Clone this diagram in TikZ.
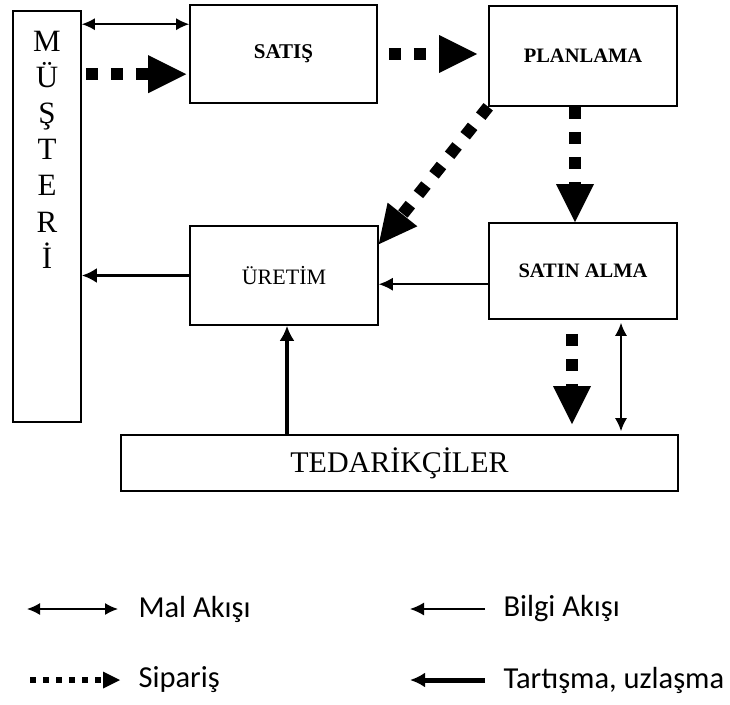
\documentclass[tikz,border=0pt]{standalone}
\usepackage{fontspec}
\setmainfont{Liberation Serif}
\newfontfamily\aciklama{Carlito}
\usetikzlibrary{arrows.meta}
\tikzset{
  kutu/.style={draw, line width=1.6pt, inner sep=0pt},
  harf/.style={anchor=base, font=\fontsize{31}{33}\selectfont},
  mal/.style={line width=1.5pt, {Latex[length=13pt,width=12pt]}-{Latex[length=13pt,width=12pt]}},
  bilgi/.style={line width=1.5pt, -{Latex[length=14pt,width=13pt]}},
  tartisma/.style={line width=3.5pt, -{Latex[length=15pt,width=15pt]}},
  siparis/.style={line width=12pt, dash pattern=on 12pt off 13pt, -{Triangle[length=38pt,width=38pt,line width=0pt]}},
  kucuksiparis/.style={line width=6pt, dash pattern=on 6pt off 7pt, -{Triangle[length=17pt,width=17pt,line width=0pt]}},
  yazi/.style={anchor=west, font=\aciklama\fontsize{30.5}{34}\selectfont}
}
\begin{document}
\begin{tikzpicture}[x=1pt, y=-1pt]
\useasboundingbox (0,0) rectangle (730,704);
\node[kutu, minimum width=68pt, minimum height=411pt] (musteri) at (47,216.5){};
\foreach \h [count=\i] in {M,Ü,Ş,T,E,R,İ}
  \node[harf] (harf\i) at (47,14.8+36.2*\i){\h};
\node[kutu, minimum width=187pt, minimum height=98pt, font=\bfseries\fontsize{21}{24}\selectfont] (satis) at (283.5,54){SATIŞ};
\node[kutu, minimum width=188pt, minimum height=100pt, font=\bfseries\fontsize{20.5}{24}\selectfont] (planlama) at (583,56){PLANLAMA};
\node[kutu, minimum width=188pt, minimum height=99pt, font=\fontsize{22}{24}\selectfont] (uretim) at (284,275.5){ÜRETİM};
\node[kutu, minimum width=188pt, minimum height=96pt, font=\bfseries\fontsize{20.5}{24}\selectfont] (satinalma) at (583,271){SATIN ALMA};
\node[kutu, minimum width=557pt, minimum height=56pt, font=\fontsize{30}{34}\selectfont] (tedarikci) at (399.5,463){TEDARİKÇİLER};
\coordinate (malust) at ([yshift=-20pt]satis.north west);
\coordinate (sipust) at ([yshift=-70pt]satis.north west);
\coordinate (bilgiuc) at ([yshift=-62pt]satinalma.north west);
\coordinate (tartalt) at ([xshift=3pt]uretim.south);
\coordinate (sipalt) at ([xshift=-11pt]satinalma.south);
\coordinate (malalt) at ([xshift=38pt]satinalma.south);
\draw[mal] (musteri.east |- malust) -- (malust);
\draw[siparis, shorten <=4pt, shorten >=3pt] (musteri.east |- sipust) -- (sipust);
\draw[siparis, shorten <=11pt, shorten >=11pt] (satis.east) -- (planlama.west |- satis.east);
\draw[siparis] ([xshift=-8pt]planlama.south) -- ([xshift=-8pt]satinalma.north);
\draw[siparis] (planlama.south west) -- ([yshift=-19pt]uretim.north east);
\draw[bilgi] (bilgiuc) -- (uretim.east |- bilgiuc);
\draw[tartisma] (uretim.west) -- (musteri.east |- uretim.west);
\draw[tartisma] (tedarikci.north -| tartalt) -- (tartalt);
\draw[siparis, shorten <=14pt, shorten >=10pt] (sipalt) -- (tedarikci.north -| sipalt);
\draw[mal, shorten <=3pt, shorten >=3pt] (malalt) -- (tedarikci.north -| malalt);
\coordinate (l1a) at (27,609);
\coordinate (l1b) at (118,609);
\coordinate (l2a) at (410,609);
\coordinate (l2b) at (485,609);
\coordinate (l3a) at (30,680);
\coordinate (l3b) at (120,680);
\coordinate (l4a) at (410,680);
\coordinate (l4b) at (485,680);
\draw[mal] (l1a) -- (l1b);
\draw[bilgi] (l2b) -- (l2a);
\draw[kucuksiparis] (l3a) -- (l3b);
\draw[tartisma, line width=5pt] (l4b) -- (l4a);
\node[yazi] (lmal) at (135,609){Mal Akışı};
\node[yazi] (lbilgi) at (500,609){Bilgi Akışı};
\node[yazi] (lsiparis) at (135,680){Sipariş};
\node[yazi] (ltartisma) at (500,680){Tartışma, uzlaşma};
\end{tikzpicture}
\end{document}
